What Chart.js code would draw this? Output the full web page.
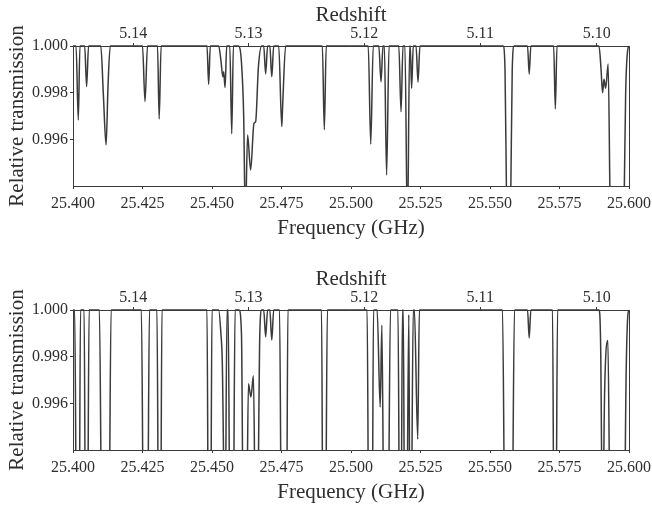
<!DOCTYPE html>
<html>
<head>
<meta charset="utf-8">
<script src="https://cdn.jsdelivr.net/npm/chart.js@4.4.1/dist/chart.umd.min.js"></script>
<style>
    html, body { margin: 0; padding: 0; background: #fff; overflow: hidden; }
    #wrap { position: relative; width: 652px; height: 506px; }
    canvas { position: absolute; left: 0; }
</style>
</head>
<body>
<div id="wrap">
    <canvas id="upper" width="652" height="250" style="top:0"></canvas>
    <canvas id="lower" width="652" height="242" style="top:264px"></canvas>
</div>
<script>
// Upper panel: frequency (GHz) and relative transmission
const freqUpper = [
    25.4000,
    25.4011, 25.4019, 25.4025,
    25.4042, 25.4049, 25.4056,
    25.4100, 25.4109, 25.4119, 25.4126, 25.4134,
    25.4250, 25.4259, 25.4268,
    25.4304, 25.4310, 25.4317,
    25.4482, 25.4488, 25.4494,
    25.4524, 25.4532, 25.4539, 25.4542, 25.4547, 25.4553,
    25.4564, 25.4571, 25.4577,
    25.4595, 25.4606, 25.4614, 25.4620, 25.4628, 25.4639, 25.4651, 25.4657, 25.4667, 25.4679,
    25.4686, 25.4693, 25.4700,
    25.4708, 25.4715, 25.4722,
    25.4740, 25.4751, 25.4754, 25.4765,
    25.4897, 25.4904, 25.4911,
    25.5062, 25.5071, 25.5080,
    25.5100, 25.5108, 25.5115,
    25.5120, 25.5128, 25.5137,
    25.5172, 25.5180, 25.5187,
    25.5194, 25.5203, 25.5211,
    25.5213, 25.5218, 25.5224,
    25.5234, 25.5241, 25.5248,
    25.5547, 25.5554, 25.5560, 25.5567, 25.5574, 25.5580, 25.5587,
    25.5635, 25.5641, 25.5647,
    25.5729, 25.5735, 25.5741,
    25.5892, 25.5899, 25.5905, 25.5910, 25.5916, 25.5925, 25.5933, 25.5950, 25.5975, 25.5982, 25.5988, 25.5995, 25.6000,
];
const transUpper = [
    1,
    1, 0.99685, 1,
    1, 0.99827, 1,
    1, 0.99799, 0.99579, 0.9983, 1,
    1, 0.99763, 1,
    1, 0.99689, 1,
    1, 0.99837, 1,
    1, 0.9994, 0.99869, 0.9989, 0.99823, 1,
    1, 0.99626, 1,
    1, 0.9993, 0.9970, 0.9925, 0.99621, 0.99472, 0.99671, 0.99678, 0.99912, 1,
    1, 0.99881, 1,
    1, 0.99869, 1,
    1, 0.99657, 0.99742, 1,
    1, 0.99643, 1,
    1, 0.99582, 1,
    1, 0.99848, 1,
    1, 0.99451, 1,
    1, 0.99720, 1,
    1, 0.9920, 1,
    1, 0.9982, 1,
    1, 0.99846, 1,
    1, 0.9990, 0.9930, 0.9900, 0.9930, 0.9990, 1,
    1, 0.99880, 1,
    1, 0.99732, 1,
    1, 0.9991, 0.99801, 0.99858, 0.99820, 0.99923, 0.9925, 0.9900, 0.9900, 0.9930, 0.9980, 0.9998, 1,
];

// Lower panel
const freqLower = [
    25.4000,
    25.4006, 25.4013, 25.4022, 25.4027,
    25.4040, 25.4045, 25.4052, 25.4058,
    25.4095, 25.4104, 25.4129, 25.4137,
    25.4246, 25.4254, 25.4268, 25.4275,
    25.4302, 25.4308, 25.4315, 25.4320,
    25.4482, 25.4487, 25.4495, 25.4500,
    25.4524, 25.4532, 25.4537, 25.4547, 25.4554,
    25.4558, 25.4565, 25.4576, 25.4583,
    25.4597, 25.4606, 25.4613, 25.4624, 25.4631, 25.4640, 25.4649, 25.4657, 25.4663, 25.4672, 25.4679,
    25.4686, 25.4693, 25.4700,
    25.4708, 25.4715, 25.4722,
    25.4743, 25.4750, 25.4768, 25.4773,
    25.4894, 25.4899, 25.4908, 25.4915,
    25.5058, 25.5064, 25.5076, 25.5081,
    25.5094, 25.5105, 25.5111,
    25.5119, 25.5133, 25.5142,
    25.5169, 25.5175, 25.5180, 25.5185,
    25.5188, 25.5193, 25.5200, 25.5208,
    25.5212, 25.5216, 25.5224,
    25.5228, 25.5240, 25.5246,
    25.5545, 25.5554, 25.5579, 25.5588,
    25.5635, 25.5641, 25.5647,
    25.5725, 25.5730, 25.5737, 25.5743,
    25.5892, 25.5898, 25.5905, 25.5912, 25.5924, 25.5933, 25.5982, 25.5990, 25.5996, 25.6000,
];
const transLower = [
    1,
    1, 0.990, 0.990, 1,
    1, 0.990, 0.990, 1,
    1, 0.990, 0.990, 1,
    1, 0.990, 0.990, 1,
    1, 0.990, 0.990, 1,
    1, 0.990, 0.990, 1,
    1, 0.9990, 0.9978, 0.990, 1,
    1, 0.990, 0.990, 1,
    1, 0.9990, 0.990, 0.990, 0.99686, 0.99630, 0.99720, 0.990, 0.990, 0.9990, 1,
    1, 0.99886, 1,
    1, 0.99872, 1,
    1, 0.990, 0.990, 1,
    1, 0.990, 0.990, 1,
    1, 0.990, 0.990, 1,
    1, 0.99586, 0.99936,
    0.990, 0.990, 1,
    1, 0.990, 0.990, 1,
    1, 0.990, 0.990, 0.9998,
    0.990, 0.990, 1,
    1, 0.9945, 1,
    1, 0.990, 0.990, 1,
    1, 0.99881, 1,
    1, 0.990, 0.990, 1,
    1, 0.9985, 0.990, 0.99634, 0.99870, 0.990, 0.990, 0.9975, 0.9998, 1,
];

const freqTicks = [25.400, 25.425, 25.450, 25.475, 25.500, 25.525, 25.550, 25.575, 25.600];
const transTicks = [0.996, 0.998, 1.000];
const redshiftTicks = [5.14, 5.13, 5.12, 5.11, 5.10];

// rest frequency (GHz) linking the redshift axis to the frequency axis
const REST_FREQ = 156.089;

const FREQ_MIN = 25.4;
const FREQ_MAX = 25.6;
const TRANS_MIN = 0.99404;
const TRANS_MAX = 1.0;

const INK = '#3a3a3a';
const TEXT = '#2e2e2e';
const FAMILY = '"Liberation Serif", "Times New Roman", serif';
const tickFont = {family: FAMILY, size: 16};
const titleFont = {family: FAMILY, size: 21};

function toPoints(xs, ys) {
    return xs.map((x, i) => ({x, y: ys[i]}));
}

function axisGrid(tickLength) {
    return {
        display: true,
        drawOnChartArea: false,
        drawTicks: true,
        tickLength,
        color: INK,
        lineWidth: 1,
    };
}

// keep the plot box where the figure has it, whatever the label overhang
function fixBox(size) {
    return (scale) => {
        if (scale.isHorizontal()) {
            scale.height = size;
        } else {
            scale.width = size;
        }
        scale.paddingLeft = 0;
        scale.paddingRight = 0;
        scale.paddingTop = 0;
        scale.paddingBottom = 0;
    };
}

function makeChart(id, xs, ys, bottomHeight, titlePad) {
    const ctx = document.getElementById(id).getContext('2d');

    return new Chart(ctx, {
        type: 'line',
        data: {
            datasets: [{
                data: toPoints(xs, ys),
                borderColor: INK,
                borderWidth: 1.5,
                pointRadius: 0,
                fill: false,
                cubicInterpolationMode: 'monotone',
                clip: {left: 1, top: 2, right: 1, bottom: 0},
            }],
        },
        options: {
            responsive: false,
            devicePixelRatio: 1,
            animation: false,
            events: [],
            layout: {padding: 0},
            plugins: {legend: {display: false}, tooltip: {enabled: false}},
            scales: {
                x: {
                    type: 'linear',
                    position: 'bottom',
                    min: FREQ_MIN,
                    max: FREQ_MAX,
                    afterBuildTicks: (scale) => {
                        scale.ticks = freqTicks.map((value) => ({value}));
                    },
                    afterFit: fixBox(bottomHeight),
                    ticks: {
                        autoSkip: false,
                        maxRotation: 0,
                        padding: 5,
                        color: TEXT,
                        font: tickFont,
                        callback: (value) => Number(value).toFixed(3),
                    },
                    grid: axisGrid(3),
                    border: {display: true, color: INK, width: 1},
                    title: {
                        display: true,
                        text: 'Frequency (GHz)',
                        color: TEXT,
                        font: titleFont,
                        padding: {top: 0, bottom: titlePad},
                    },
                },
                x2: {
                    type: 'linear',
                    position: 'top',
                    display: true,
                    min: FREQ_MIN,
                    max: FREQ_MAX,
                    afterBuildTicks: (scale) => {
                        scale.ticks = redshiftTicks.map((z) => ({value: REST_FREQ / (1 + z)}));
                    },
                    afterFit: fixBox(46),
                    ticks: {
                        autoSkip: false,
                        maxRotation: 0,
                        padding: 0,
                        color: TEXT,
                        font: tickFont,
                        callback: (value, index) => redshiftTicks[index].toFixed(2),
                    },
                    grid: axisGrid(3),
                    border: {display: true, color: INK, width: 1},
                    title: {
                        display: true,
                        text: 'Redshift',
                        color: TEXT,
                        font: titleFont,
                        padding: {top: 3, bottom: 0},
                    },
                },
                y: {
                    type: 'linear',
                    position: 'left',
                    min: TRANS_MIN,
                    max: TRANS_MAX,
                    afterBuildTicks: (scale) => {
                        scale.ticks = transTicks.map((value) => ({value}));
                    },
                    afterFit: fixBox(73),
                    ticks: {
                        padding: 2,
                        color: TEXT,
                        font: tickFont,
                        callback: (value) => Number(value).toFixed(3),
                    },
                    grid: axisGrid(3),
                    border: {display: true, color: INK, width: 1},
                    title: {
                        display: true,
                        text: 'Relative transmission',
                        color: TEXT,
                        font: titleFont,
                        padding: {top: 5, bottom: 0},
                    },
                },
                y2: {
                    type: 'linear',
                    position: 'right',
                    display: true,
                    min: TRANS_MIN,
                    max: TRANS_MAX,
                    afterFit: fixBox(23),
                    ticks: {display: false},
                    grid: {display: false},
                    border: {display: true, color: INK, width: 1},
                },
            },
        },
    });
}

makeChart('upper', freqUpper, transUpper, 64, 9);
makeChart('lower', freqLower, transLower, 56, 1);
</script>
</body>
</html>
